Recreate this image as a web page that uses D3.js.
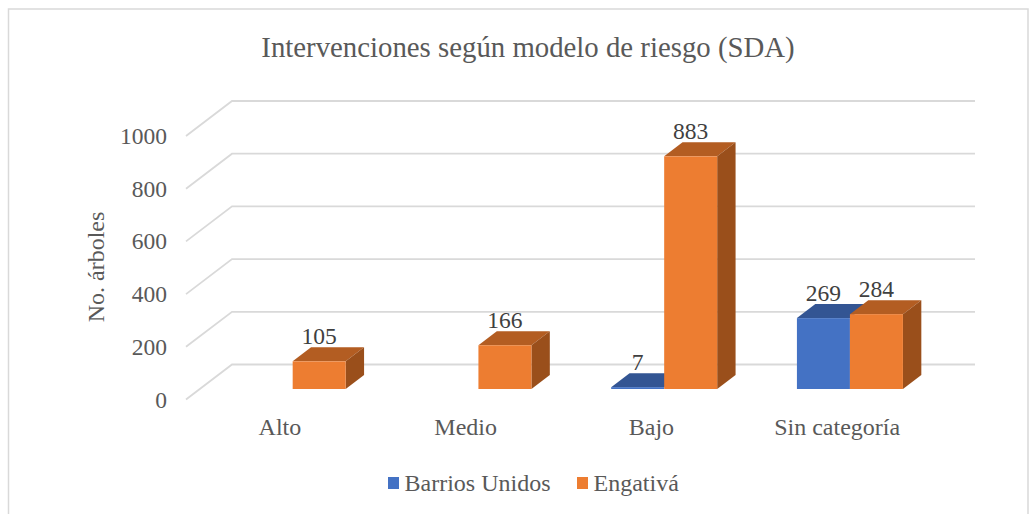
<!DOCTYPE html>
<html>
<head>
<meta charset="utf-8">
<script src="https://cdn.jsdelivr.net/npm/d3@7"></script>
<style>
  html, body { margin: 0; background: #fff; }
  text { font-family: "Liberation Serif", serif; }
</style>
</head>
<body>
<svg id="chart" width="1036" height="514"></svg>
<script>
// values
const categories = ["Alto", "Medio", "Bajo", "Sin categoría"];
const seriesNames = ["Barrios Unidos", "Engativá"];
const barriosUnidos = [null, null, 7, 269];
const engativa = [105, 166, 883, 284];
const yTicks = [0, 200, 400, 600, 800, 1000];

const width = 1036, height = 514;
const frontLeft = 186, frontRight = 929, frontBase = 399.5, frontTop = 136;
const floorDx = 46, floorDy = 35;   // depth of the 3D floor
const barInset = 0.3, barDepth = 0.4; // fractions of floor depth
const colors = {
  "Barrios Unidos": { front: "#4472c4", top: "#335593" },
  "Engativá": { front: "#ed7d31", top: "#b35d22", side: "#9a4f1b" }
};

const svg = d3.select("#chart");

// chart frame
svg.append("path")
  .attr("d", "M8.5,514V9H1028V514")
  .attr("fill", "none").attr("stroke", "#d9d9d9").attr("stroke-width", 1.5);

const x = d3.scaleBand().domain(categories).range([frontLeft, frontRight]);
const y = d3.scaleLinear().domain([0, 1000]).range([frontBase, frontTop]);
const xInner = d3.scaleBand().domain(seriesNames).range([0, 106]);

// gridlines on the floor and back wall
const grid = svg.append("g").attr("fill", "none").attr("stroke", "#d9d9d9").attr("stroke-width", 1.8);
yTicks.forEach(t => {
  grid.append("path").attr("d",
    `M${frontLeft},${y(t)}L${frontLeft + floorDx},${y(t) - floorDy}H${frontRight + floorDx}`);
});

// axes
const yAxis = svg.append("g")
  .attr("transform", `translate(${frontLeft - 19},0)`)
  .call(d3.axisLeft(y).tickValues(yTicks).tickFormat(d3.format("d")).tickSize(0).tickPadding(0));
const xAxis = svg.append("g")
  .attr("transform", `translate(1,${frontBase + 18})`)
  .call(d3.axisBottom(x).tickSize(0).tickPadding(0));
[yAxis, xAxis].forEach(a => {
  a.select(".domain").remove();
  a.selectAll("text").attr("fill", "#595959").style("font-family", "Liberation Serif");
});
yAxis.selectAll("text").style("font-size", "23.5px");
xAxis.selectAll("text").style("font-size", "24px");

// bars, left series first, right series over it
const dx = floorDx * barDepth, dy = floorDy * barDepth;
const offX = floorDx * barInset, offY = floorDy * barInset;
const rows = [];
seriesNames.forEach((name, s) => {
  const vals = s === 0 ? barriosUnidos : engativa;
  categories.forEach((c, i) => {
    if (vals[i] != null) rows.push({ name, cat: c, value: vals[i] });
  });
});
const groupLeft = d => x(d.cat) + (x.bandwidth() - 106) / 2 + offX + xInner(d.name);

const bars = svg.append("g").selectAll("g").data(rows).join("g");
bars.append("path")
  .attr("fill", d => colors[d.name].top)
  .attr("d", d => {
    const l = groupLeft(d), w = xInner.bandwidth(), t = y(d.value) - offY;
    return `M${l},${t}l${dx},${-dy}h${w}l${-dx},${dy}Z`;
  });
bars.filter(d => colors[d.name].side).append("path")
  .attr("fill", d => colors[d.name].side)
  .attr("d", d => {
    const r = groupLeft(d) + xInner.bandwidth(), t = y(d.value) - offY, b = y(0) - offY;
    return `M${r},${t}l${dx},${-dy}V${b - dy}L${r},${b}Z`;
  });
bars.append("rect")
  .attr("fill", d => colors[d.name].front)
  .attr("x", groupLeft)
  .attr("y", d => y(d.value) - offY)
  .attr("width", xInner.bandwidth())
  .attr("height", d => y(0) - y(d.value));

// data labels
svg.append("g").selectAll("text").data(rows).join("text")
  .attr("x", d => groupLeft(d) + xInner.bandwidth() / 2)
  .attr("y", d => y(d.value) - offY - 17)
  .attr("text-anchor", "middle")
  .attr("fill", "#404040")
  .style("font-size", "23.5px")
  .text(d => d.value);

// title and axis title
svg.append("text").attr("x", 528).attr("y", 57).attr("text-anchor", "middle")
  .attr("fill", "#595959").style("font-size", "28.8px")
  .text("Intervenciones según modelo de riesgo (SDA)");
svg.append("text").attr("transform", "translate(104,267) rotate(-90)").attr("text-anchor", "middle")
  .attr("fill", "#595959").style("font-size", "24px")
  .text("No. árboles");

// legend
const legendX = [388, 577];
const legend = svg.append("g").selectAll("g").data(seriesNames).join("g")
  .attr("transform", (d, i) => `translate(${legendX[i]},477)`);
legend.append("rect").attr("width", 11).attr("height", 12)
  .attr("fill", d => colors[d].front);
legend.append("text").attr("x", 16.5).attr("y", 13.5)
  .attr("fill", "#595959").style("font-size", "24px")
  .text(d => d);
</script>
</body>
</html>
